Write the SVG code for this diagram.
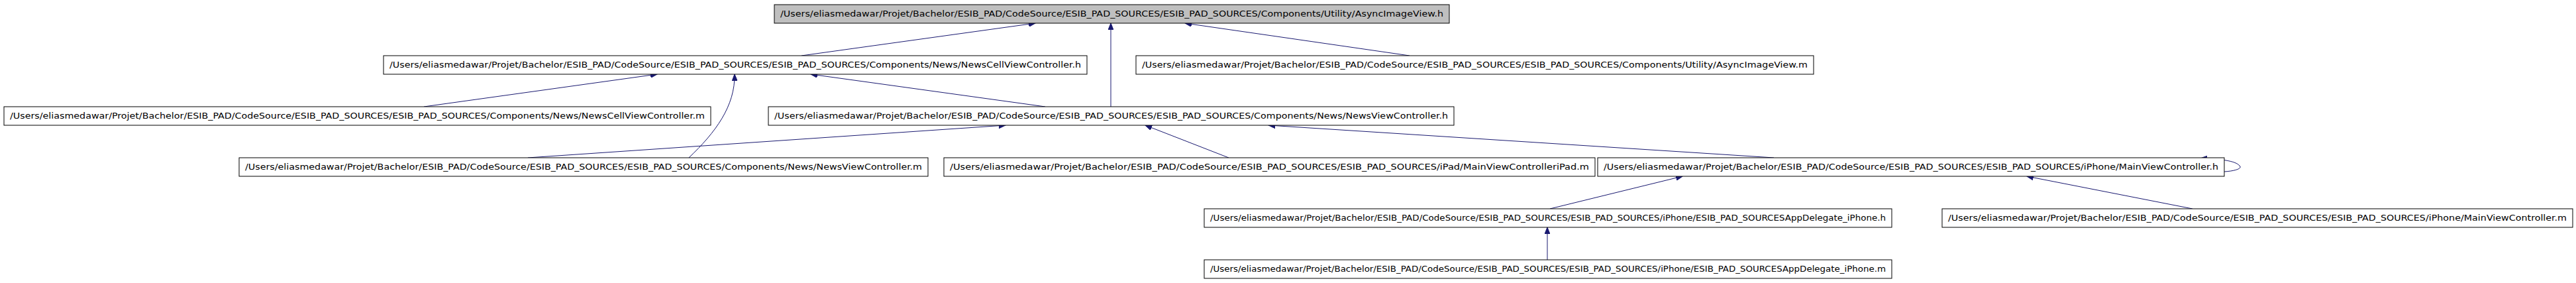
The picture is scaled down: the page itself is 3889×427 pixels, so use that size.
<svg xmlns="http://www.w3.org/2000/svg" width="3889" height="427" viewBox="0 0 3889 427">
<style>
.box{fill:#ffffff;stroke:#000000;stroke-width:1}
.root{fill:#bfbfbf}
.lbl{font-family:"Liberation Sans Narrow","DejaVu Sans Condensed","Liberation Sans",sans-serif;font-size:12px;fill:#000000}
.edge{fill:none;stroke:#191970;stroke-width:1;marker-end:url(#ah)}
</style>
<defs>
<marker id="ah" markerUnits="userSpaceOnUse" markerWidth="11" markerHeight="8" refX="10" refY="4" orient="auto"><path d="M0,0 L10,4 L0,8 z" fill="#191970" stroke="#191970"/></marker>
</defs>
<rect width="3889" height="427" fill="#ffffff"/>
<g id="edges">
<path class="edge" d="M1210,84 L1563,35"/>
<path class="edge" d="M1677,161 L1677,35"/>
<path class="edge" d="M2128,84 L1789,35"/>
<path class="edge" d="M640,161 L992,112"/>
<path class="edge" d="M1040,238 C1080,200 1110,160 1109,112"/>
<path class="edge" d="M1578,161 L1224,112"/>
<path class="edge" d="M797,238 L1518,189"/>
<path class="edge" d="M1855,238 L1729,189"/>
<path class="edge" d="M2678,238 L1915,189"/>
<path class="edge" d="M3358,259 C3375,258 3386,254 3381,250 C3376,244 3360,240 3322,239"/>
<path class="edge" d="M2340,315 L2540,266"/>
<path class="edge" d="M3310,315 L3060,266"/>
<path class="edge" d="M2336,392 L2336,343"/>
</g>
<g id="n1"><rect class="box root" x="1169" y="7" width="1019" height="28"/><text class="lbl" x="1178" y="25" textLength="1001" lengthAdjust="spacingAndGlyphs">/Users/eliasmedawar/Projet/Bachelor/ESIB_PAD/CodeSource/ESIB_PAD_SOURCES/ESIB_PAD_SOURCES/Components/Utility/AsyncImageView.h</text></g>
<g id="n2"><rect class="box" x="579" y="84" width="1062" height="28"/><text class="lbl" x="588" y="102" textLength="1044" lengthAdjust="spacingAndGlyphs">/Users/eliasmedawar/Projet/Bachelor/ESIB_PAD/CodeSource/ESIB_PAD_SOURCES/ESIB_PAD_SOURCES/Components/News/NewsCellViewController.h</text></g>
<g id="n3"><rect class="box" x="1715" y="84" width="1023" height="28"/><text class="lbl" x="1724" y="102" textLength="1005" lengthAdjust="spacingAndGlyphs">/Users/eliasmedawar/Projet/Bachelor/ESIB_PAD/CodeSource/ESIB_PAD_SOURCES/ESIB_PAD_SOURCES/Components/Utility/AsyncImageView.m</text></g>
<g id="n4"><rect class="box" x="6" y="161" width="1067" height="28"/><text class="lbl" x="15" y="179" textLength="1049" lengthAdjust="spacingAndGlyphs">/Users/eliasmedawar/Projet/Bachelor/ESIB_PAD/CodeSource/ESIB_PAD_SOURCES/ESIB_PAD_SOURCES/Components/News/NewsCellViewController.m</text></g>
<g id="n5"><rect class="box" x="1160" y="161" width="1035" height="28"/><text class="lbl" x="1169" y="179" textLength="1017" lengthAdjust="spacingAndGlyphs">/Users/eliasmedawar/Projet/Bachelor/ESIB_PAD/CodeSource/ESIB_PAD_SOURCES/ESIB_PAD_SOURCES/Components/News/NewsViewController.h</text></g>
<g id="n6"><rect class="box" x="361" y="238" width="1040" height="28"/><text class="lbl" x="370" y="256" textLength="1022" lengthAdjust="spacingAndGlyphs">/Users/eliasmedawar/Projet/Bachelor/ESIB_PAD/CodeSource/ESIB_PAD_SOURCES/ESIB_PAD_SOURCES/Components/News/NewsViewController.m</text></g>
<g id="n7"><rect class="box" x="1425" y="238" width="983" height="28"/><text class="lbl" x="1434" y="256" textLength="965" lengthAdjust="spacingAndGlyphs">/Users/eliasmedawar/Projet/Bachelor/ESIB_PAD/CodeSource/ESIB_PAD_SOURCES/ESIB_PAD_SOURCES/iPad/MainViewControlleriPad.m</text></g>
<g id="n8"><rect class="box" x="2412" y="238" width="946" height="28"/><text class="lbl" x="2421" y="256" textLength="928" lengthAdjust="spacingAndGlyphs">/Users/eliasmedawar/Projet/Bachelor/ESIB_PAD/CodeSource/ESIB_PAD_SOURCES/ESIB_PAD_SOURCES/iPhone/MainViewController.h</text></g>
<g id="n9"><rect class="box" x="1818" y="315" width="1038" height="28"/><text class="lbl" x="1827" y="333" textLength="1020" lengthAdjust="spacingAndGlyphs">/Users/eliasmedawar/Projet/Bachelor/ESIB_PAD/CodeSource/ESIB_PAD_SOURCES/ESIB_PAD_SOURCES/iPhone/ESIB_PAD_SOURCESAppDelegate_iPhone.h</text></g>
<g id="n10"><rect class="box" x="2932" y="315" width="952" height="28"/><text class="lbl" x="2941" y="333" textLength="934" lengthAdjust="spacingAndGlyphs">/Users/eliasmedawar/Projet/Bachelor/ESIB_PAD/CodeSource/ESIB_PAD_SOURCES/ESIB_PAD_SOURCES/iPhone/MainViewController.m</text></g>
<g id="n11"><rect class="box" x="1818" y="392" width="1038" height="28"/><text class="lbl" x="1827" y="410" textLength="1020" lengthAdjust="spacingAndGlyphs">/Users/eliasmedawar/Projet/Bachelor/ESIB_PAD/CodeSource/ESIB_PAD_SOURCES/ESIB_PAD_SOURCES/iPhone/ESIB_PAD_SOURCESAppDelegate_iPhone.m</text></g>
</svg>
